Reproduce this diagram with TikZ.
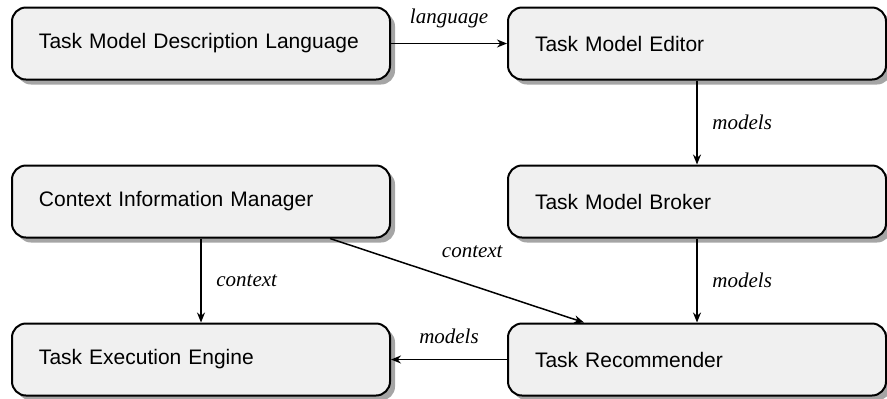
\documentclass[tikz,border=0pt]{standalone}
\usepackage{fontspec}
\setmainfont{Liberation Serif}
\setsansfont{Liberation Sans}
\usetikzlibrary{arrows.meta,positioning,shadows}

\begin{document}
\begin{tikzpicture}[font=\fontsize{10.5}{12.6}\selectfont, node distance=42pt and 58pt, >={Stealth[length=5pt,width=4pt]},
  line width=0.75pt,
  box/.style={draw, line width=1pt, rounded corners=7pt, fill=black!6, minimum width=189pt, minimum height=36pt,
    text width=162pt, align=left, font=\sffamily\fontsize{10.5}{12.6}\selectfont,
    drop shadow={shadow xshift=2.5pt, shadow yshift=-2.5pt, fill=black!70}},
  lbl/.style={font=\itshape\fontsize{10.5}{12.6}\selectfont}]
\useasboundingbox (0,0) rectangle (443.5pt,-199pt);

\node[box] (tmdl) at (100.5pt,-21.75pt) {Task Model Description Language};
\node[box, right=of tmdl] (editor) {Task Model Editor};
\node[box, below=of editor] (broker) {Task Model Broker};
\node[box, below=of tmdl] (cim) {Context Information Manager};
\node[box, below=of cim] (engine) {Task Execution Engine};
\node[box, below=of broker] (recommender) {Task Recommender};

\draw[->] (tmdl) -- node[lbl, above=4pt] {language} (editor);
\draw[->] (editor) -- node[lbl, right=4pt] {models} (broker);
\draw[->] (broker) -- node[lbl, right=4pt] {models} (recommender);
\draw[->] (cim) -- node[lbl, right=4pt] {context} (engine);
\draw[->] (recommender) -- node[lbl, above=4pt] {models} (engine);
\draw[->] ([xshift=-30.5pt]cim.south east) -- node[lbl, pos=0.56, above=10pt] {context} ([xshift=38.5pt]recommender.north west);
\end{tikzpicture}
\end{document}
